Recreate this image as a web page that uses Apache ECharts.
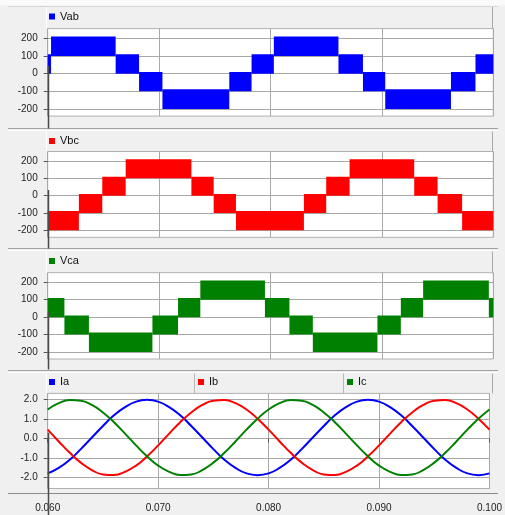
<!DOCTYPE html>
<html>
<head>
<meta charset="utf-8">
<script src="https://cdn.jsdelivr.net/npm/echarts@6/dist/echarts.min.js"></script>
<style>
  html, body { margin: 0; padding: 0; background: #f0f0f0; }
  #chart { width: 505px; height: 515px; }
</style>
</head>
<body>
<div id="chart"></div>
<script>
// ---- time axis (s) and tick values ----
const timeMin = 0.060;
const timeMax = 0.100;
const timeStep = 0.010;
const voltTicks = [-200, -100, 0, 100, 200];
const currTicks = [-2, -1, 0, 1, 2];

// ---- PWM bands: each step code switches between a low and a high level (V) ----
const stepCodes = [-2, -1, 1, 2];
const bandLow  = [-200, -100, 0, 100];
const bandHigh = [-88, 10, 110, 210];

// ---- line-to-line voltages: switching instants (s) and the band held in between ----
const vabEdges = [0.0600, 0.0603, 0.0661, 0.0682, 0.0703, 0.0763, 0.0783, 0.0803, 0.0861, 0.0883, 0.0903, 0.0962, 0.0984, 0.1000];
const vabSteps = [1, 2, 1, -1, -2, -1, 1, 2, 1, -1, -2, -1, 1];

const vbcEdges = [0.0600, 0.0628, 0.0649, 0.0670, 0.0729, 0.0749, 0.0769, 0.0830, 0.0850, 0.0871, 0.0929, 0.0950, 0.0972, 0.1000];
const vbcSteps = [-2, -1, 1, 2, 1, -1, -2, -1, 1, 2, 1, -1, -2];

const vcaEdges = [0.0600, 0.0615, 0.0637, 0.0694, 0.0717, 0.0737, 0.0795, 0.0817, 0.0838, 0.0896, 0.0917, 0.0937, 0.0996, 0.1000];
const vcaSteps = [1, -1, -2, -1, 1, 2, 1, -1, -2, -1, 1, 2, 1];

// ---- phase currents (A), sampled every 1 ms ----
const sampleTimes = [0.060, 0.061, 0.062, 0.063, 0.064, 0.065, 0.066, 0.067, 0.068, 0.069,
                     0.070, 0.071, 0.072, 0.073, 0.074, 0.075, 0.076, 0.077, 0.078, 0.079,
                     0.080, 0.081, 0.082, 0.083, 0.084, 0.085, 0.086, 0.087, 0.088, 0.089,
                     0.090, 0.091, 0.092, 0.093, 0.094, 0.095, 0.096, 0.097, 0.098, 0.099, 0.100];
const ia = [-1.78, -1.50, -1.08, -0.54, 0.05, 0.64, 1.18, 1.60, 1.88, 1.97,
             1.88, 1.60, 1.18, 0.64, 0.05, -0.54, -1.08, -1.50, -1.78, -1.87,
            -1.78, -1.50, -1.08, -0.54, 0.05, 0.64, 1.18, 1.60, 1.88, 1.97,
             1.88, 1.60, 1.18, 0.64, 0.05, -0.54, -1.08, -1.50, -1.78, -1.87, -1.78];
const ib = [0.45, -0.15, -0.73, -1.23, -1.61, -1.83, -1.86, -1.70, -1.38, -0.91,
           -0.35, 0.25, 0.83, 1.33, 1.71, 1.93, 1.96, 1.80, 1.48, 1.01,
            0.45, -0.15, -0.73, -1.23, -1.61, -1.83, -1.86, -1.70, -1.38, -0.91,
           -0.35, 0.25, 0.83, 1.33, 1.71, 1.93, 1.96, 1.80, 1.48, 1.01, 0.45];
const ic = [1.48, 1.80, 1.96, 1.93, 1.71, 1.33, 0.83, 0.25, -0.35, -0.91,
           -1.38, -1.70, -1.86, -1.83, -1.61, -1.23, -0.73, -0.15, 0.45, 1.01,
            1.48, 1.80, 1.96, 1.93, 1.71, 1.33, 0.83, 0.25, -0.35, -0.91,
           -1.38, -1.70, -1.86, -1.83, -1.61, -1.23, -0.73, -0.15, 0.45, 1.01, 1.48];

const FONT = '"Liberation Sans", Arial, sans-serif';
const BLUE = '#0000ff', RED = '#ff0000', GREEN = '#008000';
const GRID_LINE = '#a8a8a8';

// plot rectangles for the four stacked panels
const panels = [
  { top: 28.6,  height: 87.5, min: -240,  max: 255, stripTop: 6,     bottom: 128.5 },
  { top: 151.5, height: 85.8, min: -240,  max: 255, stripTop: 130.5, bottom: 248.5 },
  { top: 272.7, height: 86.3, min: -240,  max: 255, stripTop: 250.5, bottom: 369.5 },
  { top: 393.4, height: 95.1, min: -2.55, max: 2.3, stripTop: 372.5, bottom: 515 }
];
const plotLeft = 47.7, plotRight = 493.3;

function bandData(edges, steps) {
  const out = [];
  for (let i = 0; i < steps.length; i++) {
    const k = stepCodes.indexOf(steps[i]);
    out.push([edges[i], edges[i + 1], bandLow[k], bandHigh[k]]);
  }
  return out;
}

function bandSeries(name, gridIndex, edges, steps, color) {
  return {
    name: name,
    type: 'custom',
    xAxisIndex: gridIndex,
    yAxisIndex: gridIndex,
    clip: true,
    itemStyle: { color: color },
    encode: { x: [0, 1], y: [2, 3] },
    data: bandData(edges, steps),
    renderItem: function (params, api) {
      const p0 = api.coord([api.value(0), api.value(3)]);
      const p1 = api.coord([api.value(1), api.value(2)]);
      return {
        type: 'rect',
        shape: { x: p0[0], y: p0[1], width: p1[0] - p0[0], height: p1[1] - p0[1] },
        style: { fill: color }
      };
    }
  };
}

function currentSeries(name, values, color) {
  return {
    name: name,
    type: 'line',
    xAxisIndex: 3,
    yAxisIndex: 3,
    smooth: 0.5,
    symbol: 'none',
    lineStyle: { color: color, width: 2 },
    itemStyle: { color: color },
    data: sampleTimes.map((t, i) => [t, values[i]])
  };
}

const grid = panels.map(p => ({
  left: plotLeft, width: plotRight - plotLeft, top: p.top, height: p.height,
  show: true, backgroundColor: '#ffffff', borderColor: '#b0b0b0', borderWidth: 1
}));

const xAxis = panels.map((p, i) => ({
  type: 'value', gridIndex: i, min: timeMin, max: timeMax, interval: timeStep,
  offset: i === 3 ? 5 : 0,
  axisLine: { show: false },
  axisTick: { show: i === 3, length: 4, lineStyle: { color: '#555' } },
  axisLabel: {
    show: i === 3, fontSize: 10, fontFamily: FONT, color: '#222', margin: 10,
    formatter: v => v.toFixed(3)
  },
  splitLine: { show: true, lineStyle: { color: GRID_LINE, width: 1 } }
}));

const yAxis = panels.map((p, i) => ({
  type: 'value', gridIndex: i, min: p.min, max: p.max,
  axisLine: { show: false },
  axisTick: { show: true, length: 4, lineStyle: { color: '#555' }, customValues: i === 3 ? currTicks : voltTicks },
  axisLabel: {
    fontSize: 10, fontFamily: FONT, color: '#222', margin: 10,
    customValues: i === 3 ? currTicks : voltTicks,
    formatter: v => i === 3 ? v.toFixed(1) : String(v)
  },
  splitLine: { show: true, lineStyle: { color: GRID_LINE, width: 1 } }
}));

function legendAt(name, left, top) {
  return {
    data: [name], left: left, top: top, padding: 0,
    icon: 'rect', itemWidth: 6, itemHeight: 6, itemGap: 0,
    selectedMode: false,
    textStyle: { fontSize: 11, fontFamily: FONT, color: '#111' }
  };
}

const legend = [
  legendAt('Vab', 49, panels[0].stripTop + 5),
  legendAt('Vbc', 49, panels[1].stripTop + 5),
  legendAt('Vca', 49, panels[2].stripTop + 5),
  legendAt('Ia', 49, panels[3].stripTop + 4),
  legendAt('Ib', 198, panels[3].stripTop + 4),
  legendAt('Ic', 347, panels[3].stripTop + 4)
];

const series = [
  bandSeries('Vab', 0, vabEdges, vabSteps, BLUE),
  bandSeries('Vbc', 1, vbcEdges, vbcSteps, RED),
  bandSeries('Vca', 2, vcaEdges, vcaSteps, GREEN),
  currentSeries('Ia', ia, BLUE),
  currentSeries('Ib', ib, RED),
  currentSeries('Ic', ic, GREEN)
];

const chart = echarts.init(document.getElementById('chart'), null, { renderer: 'canvas' });
chart.setOption({
  backgroundColor: '#f0f0f0',
  animation: false,
  grid: grid,
  xAxis: xAxis,
  yAxis: yAxis,
  legend: legend,
  series: series
});

// panel chrome: separators, legend strips and the time cursor line at the left edge
const chrome = [];
const line = (x1, y1, x2, y2, color, w, z) => ({
  type: 'line', silent: true, z: z || 1,
  shape: { x1: x1, y1: y1, x2: x2, y2: y2 },
  style: { stroke: color, lineWidth: w || 1 }
});
chrome.push({ type: 'rect', silent: true, z: 0, shape: { x: 0, y: 0, width: 505, height: 5.5 }, style: { fill: '#fafafa' } });
chrome.push(line(8, 6.5, 498, 6.5, '#d6d6d6'));
panels.forEach((p, i) => {
  if (i > 0) {
    chrome.push(line(8, p.stripTop - 2, 498, p.stripTop - 2, '#a0a0a0'));
    chrome.push(line(8, p.stripTop, 498, p.stripTop, '#fdfdfd'));
  }
  chrome.push(line(46.5, p.stripTop + 1, 46.5, p.top, '#ffffff'));
  chrome.push(line(492.5, p.stripTop + 1, 492.5, p.top, '#a8a8a8'));
});
chrome.push(line(194.5, panels[3].stripTop + 1, 194.5, panels[3].top, '#b8b8b8'));
chrome.push(line(343.5, panels[3].stripTop + 1, 343.5, panels[3].top, '#b8b8b8'));
chrome.push(line(8, 493.5, 498, 493.5, '#8a8a8a'));

const cursorStart = [45, 33, 29, 0.3];
panels.forEach((p, i) => {
  const pt = chart.convertToPixel({ gridIndex: i }, [timeMin, cursorStart[i]]);
  const x = Math.round(pt[0]) + 0.5;
  chrome.push(line(x, pt[1], x, p.bottom, '#4a4a4a', 1.5, 50));
});

chart.setOption({ graphic: { elements: chrome } });
</script>
</body>
</html>
